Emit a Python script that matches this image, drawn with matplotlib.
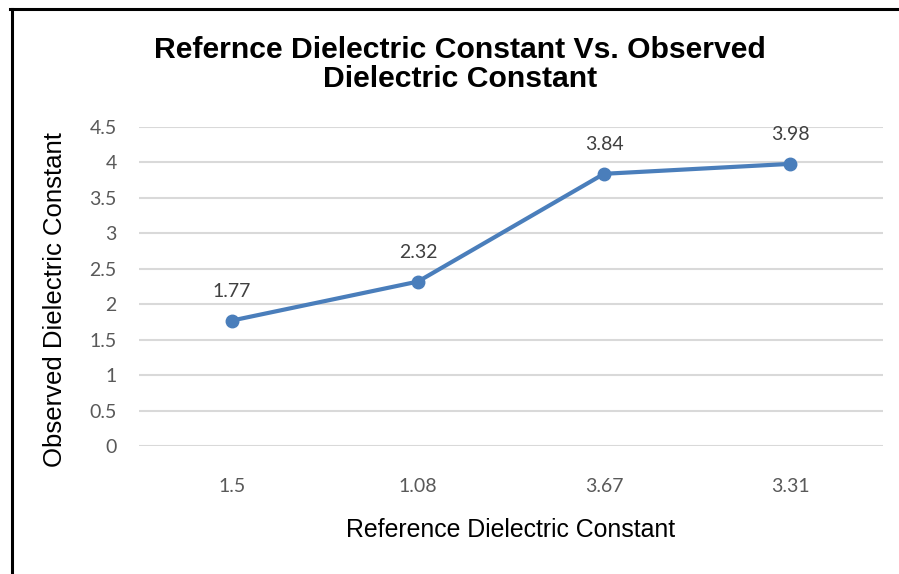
import matplotlib.pyplot as plt
from matplotlib.lines import Line2D

# datos
categorias = ['1.5', '1.08', '3.67', '3.31']
observado = [1.77, 2.32, 3.84, 3.98]
ticks_y = [0, 0.5, 1, 1.5, 2, 2.5, 3, 3.5, 4, 4.5]
etiquetas_y = ['0', '0.5', '1', '1.5', '2', '2.5', '3', '3.5', '4', '4.5']

fig = plt.figure(figsize=(8.99, 5.74), dpi=100)
ax = fig.add_axes([0.1546, 0.2230, 0.8276, 0.5557])

x = list(range(len(categorias)))
ax.plot(x, observado, color='#4A7EBB', linewidth=3, marker='o', markersize=9, zorder=3)

for xi, v in zip(x, observado):
    ax.annotate(f'{v:.2f}', (xi, v), xytext=(0, 15), textcoords='offset points',
                ha='center', va='bottom', fontsize=14, color='#404040', family='Lato')

ax.set_xlim(-0.5, len(categorias) - 0.5)
ax.set_ylim(0, 4.5)
ax.set_xticks(x)
ax.set_xticklabels(categorias, fontsize=14, color='#595959', family='Lato')
ax.set_yticks(ticks_y)
ax.set_yticklabels(etiquetas_y, fontsize=14, color='#595959', family='Lato')
ax.tick_params(length=0, pad=23, axis='x')
ax.tick_params(length=0, pad=16, axis='y')
ax.grid(axis='y', color='#D9D9D9', linewidth=1.5)
ax.set_axisbelow(True)
for s in ax.spines.values():
    s.set_visible(False)

ax.set_xlabel('Reference Dielectric Constant', fontsize=17.9, family='Liberation Sans')
ax.set_ylabel('Observed Dielectric Constant', fontsize=18.5, family='Liberation Sans')
ax.xaxis.set_label_coords(0.5, -(530 - 446) / 319, transform=ax.transAxes)
ax.yaxis.set_label_coords(-(139 - 55) / 744, (446 - 300) / 319, transform=ax.transAxes)
ax.xaxis.label.set_va('center')
ax.yaxis.label.set_va('center')

fig.text(0.512, 0.888, 'Refernce Dielectric Constant Vs. Observed\nDielectric Constant',
         ha='center', va='center', fontsize=21.7, fontweight='bold', family='Liberation Sans',
         linespacing=1.05)

# borde negro (izquierda y arriba)
fig.add_artist(Line2D([11.5/899, 11.5/899], [0, 1 - 9/574], color='black', linewidth=2.2))
fig.add_artist(Line2D([10/899, 897/899], [1 - 9/574, 1 - 9/574], color='black', linewidth=2.2))

fig.savefig('out.png', dpi=100)
